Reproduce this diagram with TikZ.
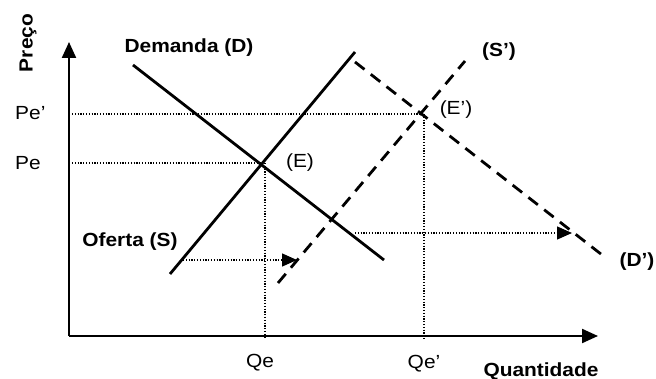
\documentclass[tikz,border=0pt]{standalone}
\usepackage{fontspec}
\setmainfont{Liberation Sans}
\usetikzlibrary{arrows.meta}
\newcommand{\wtxt}[1]{\scalebox{1.1}[1]{#1}}
\tikzset{
  lbl/.style={inner sep=0pt, font=\fontsize{19}{22}\selectfont},
  blbl/.style={lbl, font=\fontsize{19}{22}\selectfont\bfseries},
  axis/.style={line width=2.2pt, -{Triangle[length=16pt,width=14pt]}},
  curve/.style={line width=2.8pt},
  dcurve/.style={line width=2.8pt, dash pattern=on 12pt off 8pt},
  guide/.style={line width=1.3pt, dash pattern=on 1.2pt off 1.6pt},
  shiftarrow/.style={guide, -{Triangle[length=15pt,width=13pt]}},
}
\begin{document}
\begin{tikzpicture}[x=1pt,y=-1pt]
\useasboundingbox (0,0) rectangle (656,379);
% axes
\coordinate (O) at (69,336);
\coordinate (ytip) at (69,42);
\coordinate (xtip) at (598,336);
\draw[axis] (O) -- (ytip);
\draw[axis] (O) -- (xtip);
% key points
\coordinate (E) at (262,163);
\coordinate (Ep) at (421,114);
\coordinate (Pe) at (72,163);
\coordinate (Pep) at (72,114);
\coordinate (Qe) at (265,339);
\coordinate (Qep) at (424,339);
\coordinate (Ev) at (265,163);
\coordinate (Epv) at (424,114);
% guides
\draw[guide] (Pe) -- (E);
\draw[guide] (Pep) -- (Ep);
\draw[guide] (Ev) -- (Qe);
\draw[guide] (Epv) -- (Qep);
% curves
\coordinate (D1) at (133,65);
\coordinate (D2) at (384,260);
\coordinate (S1) at (170,274);
\coordinate (S2) at (355,52);
\coordinate (Sp1) at (278,283);
\coordinate (Sp2) at (465,61);
\coordinate (Dp1) at (355,62);
\coordinate (Dp2) at (606,258);
\draw[curve] (D1) -- (D2);
\draw[curve] (S1) -- (S2);
\draw[dcurve] (Sp1) -- (Sp2);
\draw[dcurve] (Dp1) -- (Dp2);
% shift arrows
\coordinate (a1s) at (183,260);
\coordinate (a1e) at (297,260);
\coordinate (a2s) at (355,233);
\coordinate (a2e) at (572,233);
\draw[shiftarrow] (a1s) -- (a1e);
\draw[shiftarrow] (a2s) -- (a2e);
% labels
\node[blbl, rotate=90] (preco) at (28,43) {\wtxt{Preço}};
\node[blbl] (dem) at (189,48) {\wtxt{Demanda (D)}};
\node[blbl] (sp) at (499,52) {\wtxt{(S’)}};
\node[lbl] (ep) at (456,110) {\wtxt{(E’)}};
\node[lbl] (e) at (300,163) {\wtxt{(E)}};
\node[blbl] (dp) at (637,262) {\wtxt{(D’)}};
\node[lbl, anchor=west] (pep) at (15,113) {\wtxt{Pe’}};
\node[lbl, anchor=west] (pe) at (15,163) {\wtxt{Pe}};
\node[lbl] (qe) at (260,363) {\wtxt{Qe}};
\node[lbl] (qep) at (424,364) {\wtxt{Qe’}};
\node[blbl] (quant) at (541,371) {\wtxt{Quantidade}};
\node[blbl] (of) at (130,242) {\wtxt{Oferta (S)}};
\end{tikzpicture}
\end{document}
